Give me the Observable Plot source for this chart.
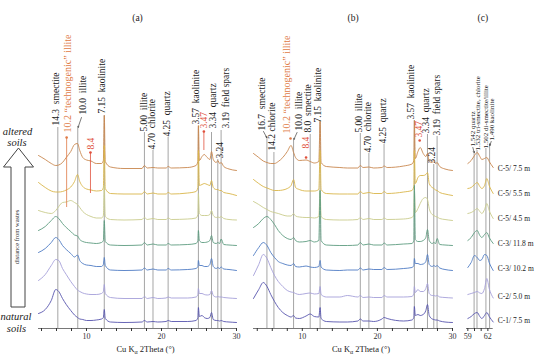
<!DOCTYPE html>
<html><head><meta charset="utf-8">
<script src="https://cdn.jsdelivr.net/npm/d3@7"></script>
<script src="https://cdn.jsdelivr.net/npm/@observablehq/plot@0.6"></script>
<style>
body{margin:0;background:#fff;}
#wrap{position:relative;width:550px;height:363px;overflow:hidden;background:#fff;font-family:"Liberation Serif",serif;}
</style></head><body><div id="wrap"></div>
<script>
// ---- samples (top = altered, bottom = natural) ----
const samples = ["C-5/ 7.5 m","C-5/ 5.5 m","C-5/ 4.5 m","C-3/ 11.8 m","C-3/ 10.2 m","C-2/ 5.0 m","C-1/ 7.5 m"];
const sampleColors = ["#c8874e","#d9b54a","#c9cc8c","#5e9c80","#4f7cc4","#a59fd9","#5755ae"];
const offsets = [158,133,108,83,58,30,6];

// ---- panel (a) ----
const twoThetaA = [3.6,4.5,5.3,5.9,6.3,6.8,7.3,7.9,8.4,8.8,9.1,9.5,10.0,10.6,11.3,12.0,12.25,12.37,12.5,13.2,15.0,17.4,17.72,18.1,18.87,19.5,20.6,20.89,21.3,23.5,24.6,24.85,24.92,25.05,25.4,25.7,26.1,26.45,26.67,26.9,27.3,27.51,27.75,27.95,28.3,29.0,30.0];
const patA1 = [15,11,7,5,5.5,8,13,19,26,27,20,13,10.5,9.5,7,7,10,55,9,3.5,2,2,5,2.5,3,2.5,2.5,4,2.5,3,5,9,45,10,14,16,13,11,19,11,8,10,7,8,4,1.5,0];
const patA2 = [13,8,4.5,3.5,3.5,4,5.5,8.5,14,21,14,9,6.5,5.5,4.5,5,8,50,7,2,1.5,1.5,4,1.5,2.5,1.5,1.5,3,1.5,2.5,4,8,45,10,11,12,11,10,15,8,6,6,5,5,3,2,0];
const patA3 = [10,8,7,10,14,18,18.5,20,18,16,13,9,6,4,2.5,2.5,5,35,4,1,0.5,1,3,1,2,1,1,2.5,1,1.5,2.5,6,27,7,5,5,5,6,10,5,3,3.5,3,4,2,1,0.5];
const patA4 = [15,19,25,29,27,22,18,14,10.5,9.5,6,4,3,2.5,2,3,5,25,4,0.5,0,0.5,3,0.5,1.5,0.5,0.5,2,0.5,1,2,5,15,5,3,3,3.5,5,10,3,2,3,2,6.5,1,0.5,0];
const patA5 = [18,22,28,33,31,25,21,17,13.5,15.5,10,7,5.5,5,4,4,6,13,5,0.5,0,0.5,2.5,0.5,1.5,0.5,0.5,2,0.5,1,2,4,10,5,5,4,4,6,12,4,2,3,2,3.5,1.5,1,0];
const patA6 = [18,24,33,39,38,30,24,17,12,8.5,7,5.5,4.5,4,4,5,7,14,5,1,0,0,2,0,1,0,0.5,1.5,0.5,0.5,1.5,4,10,5,5,4,3.5,4,8,3,1.5,2,1.5,1.5,1,0.5,0];
const patA7 = [9,13,22,33,31,24,18,12,7.5,5,3.5,3,2,2,2.5,3.5,5,13,4,0.5,0,0.5,2,0.5,1,0.5,1,2,1,1,2,5,15,6,7,5,4,5,10,3,2,2,1.5,2,1,0.5,0];

// ---- panel (b) ----
const twoThetaB = [3.5,4.2,4.8,5.3,5.8,6.3,6.8,7.4,8.0,8.5,8.84,9.1,9.6,10.5,11.05,11.6,12.2,12.37,12.5,13.2,15.0,16.0,17.4,17.72,18.1,18.87,19.5,20.6,20.89,21.3,23.5,24.6,24.85,24.92,25.05,25.4,25.7,26.1,26.45,26.67,26.9,27.3,27.51,27.75,27.95,28.3,29.0,30.0];
const patB1 = [17,13,9.5,8,7,7,9,13,19,25,18,13,10,10.5,9,7.5,9,50,8,4,3,2.5,2.5,5,3,3.5,2.5,3,4.5,3,4.5,6.5,10,50,12,19,23,17,14,17,9,8,10.5,7,8,4,1.5,0];
const patB2 = [16,12,9,7.5,6,5,5,5.5,7,10,16,8,6,4.5,4.5,4.5,6,45,6,2,1.5,1.5,1.5,4,2,3,2,2,4,2,3.5,5,9,45,12,18,20,20,21,23,12,8,7,5.5,5,3,1.5,0];
const patB3 = [19,16,13,11,9,8,7,5.5,4.5,4.5,7,4.5,3.5,3,3,2.5,4,30,4,1,0.5,0.5,1,3,1,2,1,1,2.5,1,1.5,3,6,30,8,12,17,22,23,21,12,6,5,4,3.5,2,1,0];
const patB4 = [18,22,27,29,26,21,15,10,7,6,8,5,3.5,4,5,3.5,5,55,5,0.5,0,0,0.5,3,0.5,1.5,0.5,0.5,2.5,0.5,1.5,2,5,60,6,4,4,5,8,16,5,2,3,2,7,1,0.5,0];
const patB5 = [15,23,28,25,18,13,9,7,5.5,5,7,4,3.5,4.5,3.5,3,4,10,3.5,0.5,0,0.5,0.5,2.5,0.5,1.5,1,1,3,1,2,3,5,12,7,7,6,6.5,9,16,6,4,5,4,5,2.5,1,0];
const patB6 = [23,34,44,40,31,23,17,12,8,6.5,6,5,4,5,5.5,4.5,5,12,4,1.5,1.5,3,1.5,3,1,1.5,1,1,3,1.5,1.5,2,5,12,6,9,7,7,10,15,5,3,3,2.5,3,1.5,1,0.5];
const patB7 = [24,33,40,36,28,21,15,10,7,5.5,7,4.5,4,6.5,8.5,6,5.5,15,4,1,0.5,0.5,1.5,3.5,1.5,1.5,1,3.5,5,4,1.5,2.5,5,16,7,8,7,8,12,18,7,3.5,3,2.5,2.5,1.5,0.5,0];

// ---- panel (c) ----
const twoThetaC = [59.0,59.5,60.0,60.4,60.8,61.1,61.5,61.85,62.2,62.8];
const patC1 = [7,10,15,18,14,11,12,13,9,3];
const patC2 = [7,8,11,13,9,7,10,17,10,2];
const patC3 = [7,8,10,12,9,7,11,17,10,2];
const patC4 = [5,8,13,15,10,8,11,13,8,2];
const patC5 = [3,8,15,13,10,11,16,15,8,0];
const patC6 = [4,5,6,7,5.5,5,10,20,10,0.5];
const patC7 = [4,6,9,10,6,4,7,10,6,0.5];

// ---- axis ticks ----
const ticksAB = [4,6,8,10,12,14,16,18,20,22,24,26,28,30];
const tickLabelsAB = [10,20,30];
const ticksC = [59,60,61,62];
const tickLabelsC = [59,62];
const xTitle = "Cu Kα 2Theta (°)";

// ---- reference d-spacings (Å) and the height their line reaches ----
const refsA = [{d:14.3,top:201},{d:10.0,top:200},{d:7.15,top:213},{d:5.00,top:196},{d:4.70,top:178},{d:4.25,top:191},{d:3.57,top:202},{d:3.34,top:196},{d:3.24,top:169},{d:3.19,top:198}];
const refsB = [{d:16.7,top:191},{d:14.2,top:176},{d:10.0,top:188},{d:8.0,top:194},{d:7.15,top:206},{d:5.00,top:195},{d:4.70,top:175},{d:4.25,top:184},{d:3.57,top:208},{d:3.34,top:194},{d:3.24,top:164},{d:3.19,top:192}];
const refsC = [{d:1.542,top:176},{d:1.532,top:178},{d:1.502,top:180},{d:1.490,top:185}];

// ---- peak labels (position in 2θ, bottom of the text) ----
const labelsA = [
  {x:5.87,y:203,t:"14.3  smectite",k:"min"},
  {x:7.53,y:196,t:"10.2 “technogenic” illite",k:"tech"},
  {x:9.47,y:214,t:"10.0  illite",k:"min"},
  {x:12.07,y:215,t:"7.15  kaolinite",k:"min"},
  {x:10.53,y:179,t:"8.4",k:"new"},
  {x:17.6,y:197,t:"5.00  illite",k:"min"},
  {x:18.67,y:179,t:"4.70  chlorite",k:"min"},
  {x:20.73,y:192,t:"4.25  quartz",k:"min"},
  {x:24.6,y:204,t:"3.57  kaolinite",k:"min"},
  {x:25.6,y:200,t:"3.47",k:"new"},
  {x:26.8,y:200,t:"3.34  quartz",k:"min"},
  {x:27.8,y:170,t:"3.24",k:"min"},
  {x:28.53,y:200,t:"3.19  field spars",k:"min"}
];
const labelsB = [
  {x:4.63,y:198,t:"16.7  smectite",k:"min"},
  {x:5.97,y:178,t:"14.2 chlorite",k:"min"},
  {x:7.9,y:195,t:"10.2 “technogenic” illite",k:"tech"},
  {x:9.5,y:198,t:"10.0  illite",k:"min"},
  {x:10.77,y:196,t:"8.0  smectite",k:"min"},
  {x:10.43,y:180,t:"8.4",k:"new"},
  {x:12.1,y:206,t:"7.15  kaolinite",k:"min"},
  {x:17.5,y:196,t:"5.00  illite",k:"min"},
  {x:18.7,y:176,t:"4.70  chlorite",k:"min"},
  {x:20.77,y:185,t:"4.25  quartz",k:"min"},
  {x:24.5,y:209,t:"3.57  kaolinite",k:"min"},
  {x:25.5,y:191,t:"3.47",k:"new"},
  {x:26.5,y:195,t:"3.34  quartz",k:"min"},
  {x:27.3,y:165,t:"3.24",k:"min"},
  {x:27.97,y:193,t:"3.19  field spars",k:"min"}
];
const labelsC = [
  {x:59.7,y:182,t:"1.542 quartz",k:"min"},
  {x:60.48,y:178,t:"1.532 tri-smectite, chlorite",k:"min"},
  {x:61.62,y:180,t:"1.502 di-smectite/illite",k:"min"},
  {x:62.52,y:188,t:"1.490 kaolinite",k:"min"}
];
// coloured pointers / dots
const pointersA = [{x:7.35,y1:121,y2:191,k:"tech"},{x:10.53,y1:135,y2:176,k:"new"},{x:25.65,y1:178,y2:197,k:"new"}];
const dotsB = [{x:8.43,y:190,k:"tech"},{x:10.5,y:171,k:"new"},{x:25.63,y:188,k:"new"}];
// small leader arrows
const arrowsA = [{x1:9.33,y1:211,x2:8.87,y2:201}];
const arrowsB = [{x1:4.83,y1:197,x2:5.26,y2:191},{x1:9.3,y1:196,x2:8.87,y2:189}];
const arrowsC = [{x1:59.75,y1:181,x2:59.95,y2:176},{x1:62.5,y1:187,x2:62.3,y2:183}];

const kindColor = {min:"#222", tech:"#e07a45", new:"#e0503c"};
const LAMBDA = 1.5406;
const bragg = d => 2*Math.asin(LAMBDA/(2*d))*180/Math.PI;

function panel(cfg){
  const data = [];
  cfg.series.forEach((vals,i)=>vals.forEach((v,j)=>data.push({sample:samples[i], x:cfg.grid[j], y:offsets[i]+v})));
  const refs = cfg.refs.map(r=>({x:bragg(r.d), top:r.top}));
  const marks = [
    Plot.ruleX(refs,{x:"x",y1:0,y2:"top",stroke:"#8e8e8e",strokeWidth:0.8}),
    Plot.ruleY([0],{stroke:"#555",strokeWidth:0.8}),
    Plot.axisX({ticks:cfg.ticks,tickFormat:d=>cfg.tickLabels.includes(d)?String(d):"",tickSize:3,tickPadding:1.5,fontSize:8,color:"#333",label:null}),
    Plot.line(data,{x:"x",y:"y",z:"sample",stroke:"sample",strokeWidth:0.9,curve:"monotone-x"})
  ];
  for (const k of Object.keys(kindColor)){
    const L = cfg.labels.filter(d=>d.k===k);
    if (L.length) marks.push(Plot.text(L,{x:"x",y:"y",text:"t",rotate:-90,textAnchor:"start",lineAnchor:"middle",fontSize:k==="tech"?10:cfg.labelSize,fill:kindColor[k]}));
    const P = (cfg.pointers||[]).filter(d=>d.k===k);
    if (P.length){
      marks.push(Plot.ruleX(P,{x:"x",y1:"y1",y2:"y2",stroke:kindColor[k],strokeWidth:0.8}));
      marks.push(Plot.dot(P,{x:"x",y:"y2",r:1.3,fill:kindColor[k]}));
    }
    const D = (cfg.dots||[]).filter(d=>d.k===k);
    if (D.length) marks.push(Plot.dot(D,{x:"x",y:"y",r:1.3,fill:kindColor[k]}));
  }
  if (cfg.arrows) marks.push(Plot.arrow(cfg.arrows,{x1:"x1",y1:"y1",x2:"x2",y2:"y2",stroke:"#222",strokeWidth:0.6,headLength:3}));
  marks.push(Plot.text([cfg.title],{frameAnchor:"top",dy:17,dx:cfg.titleDx||0,lineAnchor:"middle",fontSize:9.5,fill:"#222"}));
  if (cfg.xTitle) marks.push(Plot.text([cfg.xTitle],{frameAnchor:"bottom",dy:21,dx:8,lineAnchor:"middle",fontSize:8.5,fill:"#222"}));
  if (cfg.sampleLabels) marks.push(Plot.text(samples,{frameAnchor:"right",y:(d,i)=>offsets[i]+2,dx:4.5,textAnchor:"start",lineAnchor:"middle",fontSize:7.5,fill:"#222",text:d=>d}));
  const svg = Plot.plot({
    width:550,height:363,marginTop:0,marginBottom:35,marginLeft:cfg.ml,marginRight:cfg.mr,
    x:{domain:cfg.domain},
    y:{domain:[0,328],axis:null},
    color:{domain:samples,range:sampleColors},
    style:{position:"absolute",left:"0px",top:"0px",background:"transparent",overflow:"visible",fontFamily:"Liberation Serif, serif"},
    marks
  });
  svg.querySelectorAll("text").forEach(t=>{
    if (t.textContent===xTitle){
      const ns="http://www.w3.org/2000/svg";
      t.textContent="";
      const a=document.createElementNS(ns,"tspan"); a.textContent="Cu K";
      const b=document.createElementNS(ns,"tspan"); b.textContent="α"; b.setAttribute("font-size","6"); b.setAttribute("dy","2");
      const c=document.createElementNS(ns,"tspan"); c.textContent=" 2Theta (°)"; c.setAttribute("dy","-2");
      t.append(a,b,c);
    }
  });
  return svg;
}

const wrap = document.getElementById("wrap");
wrap.append(panel({grid:twoThetaA,series:[patA1,patA2,patA3,patA4,patA5,patA6,patA7],domain:[3.6,30],ml:38,mr:314,
  ticks:ticksAB,tickLabels:tickLabelsAB,refs:refsA,labels:labelsA,labelSize:9.5,pointers:pointersA,arrows:arrowsA,title:"(a)",xTitle}));
wrap.append(panel({grid:twoThetaB,series:[patB1,patB2,patB3,patB4,patB5,patB6,patB7],domain:[3.5,30],ml:253,mr:98,
  ticks:ticksAB,tickLabels:tickLabelsAB,refs:refsB,labels:labelsB,labelSize:9.5,dots:dotsB,arrows:arrowsB,title:"(b)",xTitle}));
wrap.append(panel({grid:twoThetaC,series:[patC1,patC2,patC3,patC4,patC5,patC6,patC7],domain:[58.8,62.8],ml:466,mr:57.3,
  ticks:ticksC,tickLabels:tickLabelsC,refs:refsC,labels:labelsC,labelSize:7,arrows:arrowsC,title:"(c)",titleDx:3,sampleLabels:true}));

// left-hand annotation: direction arrow
const deco = document.createElementNS("http://www.w3.org/2000/svg","svg");
deco.setAttribute("width","40"); deco.setAttribute("height","363");
deco.setAttribute("style","position:absolute;left:0;top:0;overflow:visible;font-family:'Liberation Serif',serif;");
deco.innerHTML = `
<path d="M18.5,148 L33.5,167 L25,167 L25,307 L11,307 L11,167 L3.5,167 Z" fill="#fff" stroke="#444" stroke-width="1"/>
<text x="18" y="237" transform="rotate(-90 18 237)" text-anchor="middle" dominant-baseline="middle" font-size="6.5" fill="#333">distance from wastes</text>
<text x="17.5" y="135" text-anchor="middle" font-size="10.5" font-style="italic" fill="#222">altered</text>
<text x="17" y="146" text-anchor="middle" font-size="10.5" font-style="italic" fill="#222">soils</text>
<text x="16" y="320" text-anchor="middle" font-size="10.5" font-style="italic" fill="#222">natural</text>
<text x="16.5" y="332" text-anchor="middle" font-size="10.5" font-style="italic" fill="#222">soils</text>`;
wrap.append(deco);
</script></body></html>
